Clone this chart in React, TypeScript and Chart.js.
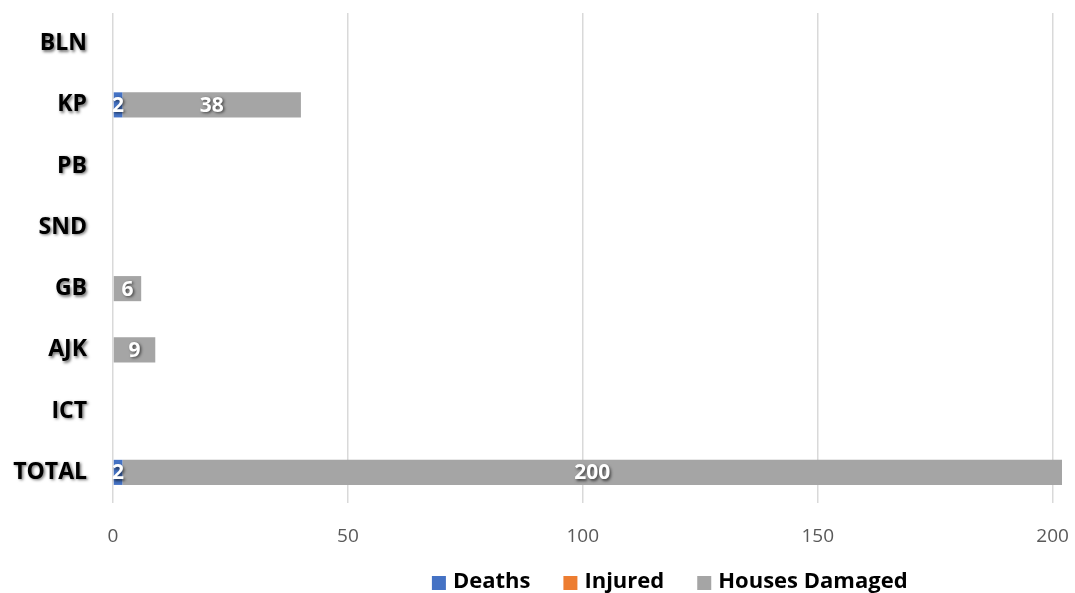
import React, { useEffect, useRef } from "react";
import { Chart, registerables } from "chart.js";

Chart.register(...registerables);

const categories = ["BLN", "KP", "PB", "SND", "GB", "AJK", "ICT", "TOTAL"];
const deaths = [0, 2, 0, 0, 0, 0, 0, 2];
const injured = [0, 0, 0, 0, 0, 0, 0, 0];
const housesDamaged = [0, 38, 0, 0, 6, 9, 0, 200];
const xTicks = [0, 50, 100, 150, 200];
const seriesNames = ["Deaths", "Injured", "Houses Damaged"];
const seriesColors = ["#4472C4", "#ED7D31", "#A5A5A5"];

const FONT = "'Open Sans', 'Noto Sans', sans-serif";

const overlayPlugin = {
  id: "overlay",
  afterDatasetsDraw(chart: any) {
    const ctx = chart.ctx;
    ctx.save();
    ctx.font = `bold 21px ${FONT}`;
    ctx.fillStyle = "#ffffff";
    ctx.textAlign = "center";
    ctx.textBaseline = "middle";
    ctx.shadowColor = "rgba(0,0,0,0.6)";
    ctx.shadowBlur = 3;
    ctx.shadowOffsetX = 1.5;
    ctx.shadowOffsetY = 1.5;
    chart.data.datasets.forEach((ds: any, di: number) => {
      const meta = chart.getDatasetMeta(di);
      meta.data.forEach((bar: any, i: number) => {
        const v = ds.data[i];
        if (!v) return;
        const cx = (bar.x + bar.base) / 2;
        ctx.fillText(String(v), cx, bar.y + 1);
      });
    });
    ctx.restore();
  },
  afterDraw(chart: any) {
    const ctx = chart.ctx;
    const yScale = chart.scales.y;
    const area = chart.chartArea;
    ctx.save();
    // category labels
    ctx.font = `bold 23px ${FONT}`;
    ctx.fillStyle = "#000000";
    ctx.textAlign = "right";
    ctx.textBaseline = "middle";
    ctx.shadowColor = "rgba(0,0,0,0.55)";
    ctx.shadowBlur = 3;
    ctx.shadowOffsetX = 1.5;
    ctx.shadowOffsetY = 1.5;
    categories.forEach((c, i) => {
      ctx.fillText(c, area.left - 26, yScale.getPixelForValue(i));
    });
    ctx.restore();

    // legend
    ctx.save();
    ctx.font = `bold 22px ${FONT}`;
    ctx.textBaseline = "middle";
    ctx.textAlign = "left";
    const box = 14;
    const gapText = 7;
    const gapItem = 33;
    const widths = seriesNames.map((n) => ctx.measureText(n).width);
    const total =
      widths.reduce((a, b) => a + b, 0) +
      seriesNames.length * (box + gapText) +
      (seriesNames.length - 1) * gapItem;
    let x = chart.width * 0.623 - total / 2;
    const y = 582;
    seriesNames.forEach((n, i) => {
      ctx.fillStyle = seriesColors[i];
      ctx.fillRect(x, y - box / 2 + 1, box, box);
      x += box + gapText;
      ctx.fillStyle = "#000000";
      ctx.fillText(n, x, y);
      x += widths[i] + gapItem;
    });
    ctx.restore();
  },
};

export default function App() {
  const canvasRef = useRef<HTMLCanvasElement | null>(null);

  useEffect(() => {
    document.body.style.margin = "0";
    const canvas = canvasRef.current;
    if (!canvas) return;
    const chart = new Chart(canvas, {
      type: "bar",
      data: {
        labels: categories,
        datasets: [
          { label: seriesNames[0], data: deaths, backgroundColor: seriesColors[0] },
          { label: seriesNames[1], data: injured, backgroundColor: seriesColors[1] },
          { label: seriesNames[2], data: housesDamaged, backgroundColor: seriesColors[2] },
        ],
      },
      options: {
        indexAxis: "y",
        animation: false,
        responsive: true,
        maintainAspectRatio: false,
        datasets: {
          bar: { barPercentage: 0.41, categoryPercentage: 1 },
        },
        layout: { padding: { left: 113, right: 13, top: 13, bottom: 0 } },
        plugins: {
          legend: { display: false },
          tooltip: { enabled: false },
        },
        scales: {
          x: {
            stacked: true,
            min: 0,
            max: 202,
            afterFit: (scale: any) => {
              scale.height = 90;
              scale.paddingLeft = 0;
              scale.paddingRight = 0;
            },
            afterBuildTicks: (scale: any) => {
              scale.ticks = xTicks.map((v) => ({ value: v }));
            },
            ticks: {
              includeBounds: false,
              stepSize: 50,
              padding: 22,
              color: "#595959",
              font: { family: FONT, size: 19 },
            },
            grid: { color: "#d9d9d9", lineWidth: 1.5, drawTicks: false },
            border: { display: false },
          },
          y: {
            stacked: true,
            display: false,
            grid: { display: false },
          },
        },
      },
      plugins: [overlayPlugin],
    });
    return () => chart.destroy();
  }, []);

  return (
    <div style={{ width: 1075, height: 593, position: "relative" }}>
      <canvas ref={canvasRef} />
    </div>
  );
}
